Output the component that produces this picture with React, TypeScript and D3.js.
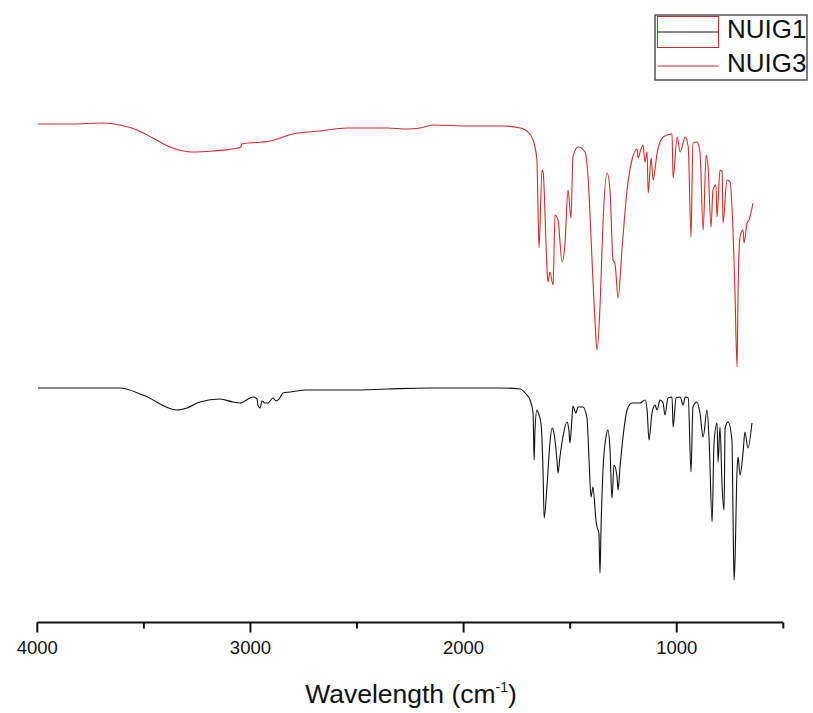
import React from "react";
import * as d3 from "d3";

// IR spectra: [wavenumber (cm-1), transmittance (offset, a.u.)]
const nuig3: [number, number][] = [
  [3997, 99.2], [3846, 99.2], [3692, 99.4], [3612, 99], [3532, 98], [3457, 96.4], [3377, 94.6],
  [3270, 93.6], [3176, 93.8], [3058, 94.4], [3045, 94.6], [3040, 95.2], [2908, 95.8], [2800, 97.2],
  [2674, 97.8], [2547, 98.4], [2359, 98.4], [2265, 98.2], [2204, 98.4], [2143, 99], [1970, 98.8],
  [1815, 98.8], [1735, 98.4], [1703, 97.8], [1674, 96], [1656, 92], [1651, 82.6], [1646, 74.4],
  [1632, 90], [1627, 89.6], [1609, 70.6], [1604, 67.6], [1595, 69.6], [1580, 67], [1571, 81],
  [1557, 80], [1538, 71.6], [1524, 75.4], [1510, 86], [1496, 80.4], [1487, 92.6], [1463, 94.6],
  [1430, 93.6], [1416, 88.6], [1398, 72.6], [1383, 59.4], [1374, 54], [1360, 62.6], [1346, 79.4],
  [1327, 89.4], [1313, 86], [1299, 72], [1290, 71.4], [1275, 64.4], [1257, 74], [1233, 86],
  [1210, 92], [1186, 94.2], [1181, 92.4], [1172, 93.6], [1158, 95], [1149, 91.6], [1139, 93.6],
  [1134, 85.4], [1120, 92.4], [1111, 88], [1092, 93.4], [1064, 96.6], [1022, 97.2], [1017, 88.4],
  [998, 96.6], [984, 93.6], [960, 96.6], [946, 94.6], [933, 76.6], [924, 95.4], [905, 95.6],
  [891, 93.6], [876, 78], [862, 93], [853, 90.6], [839, 78.6], [830, 86], [816, 87], [811, 80.6],
  [797, 90], [787, 89.6], [783, 79.4], [764, 88], [750, 87.6], [736, 78], [727, 66], [717, 50.6],
  [712, 66], [703, 76.6], [689, 78], [684, 75.4], [670, 79.4], [661, 80], [642, 83.4],
];

const nuig1: [number, number][] = [
  [3997, 46.4], [3612, 46.4], [3504, 45], [3345, 42], [3298, 42.4], [3237, 43.6], [3143, 44.2],
  [3082, 43.6], [3049, 43.4], [2988, 44.6], [2969, 44.2], [2965, 43], [2955, 42.4], [2946, 43.8],
  [2932, 43.4], [2918, 43.4], [2894, 44.4], [2880, 43.8], [2866, 44.2], [2847, 45.4], [2814, 45.6],
  [2735, 46], [2519, 46], [2359, 46.2], [2158, 46.4], [1829, 46.4], [1735, 46.2], [1707, 45.2],
  [1688, 44], [1674, 41.4], [1669, 32], [1665, 38], [1656, 42], [1651, 41.6], [1637, 39.4],
  [1627, 29.4], [1622, 20.4], [1609, 26.6], [1595, 35.4], [1585, 38.4], [1576, 37.4], [1562, 32],
  [1557, 29.4], [1548, 32.6], [1534, 36.6], [1515, 39.6], [1506, 38], [1501, 35.4], [1492, 40],
  [1487, 42.8], [1473, 41.4], [1463, 42.6], [1440, 42.6], [1421, 40.4], [1412, 32.6], [1402, 24.6],
  [1393, 26.6], [1379, 20], [1374, 18.6], [1365, 17.4], [1360, 9.4], [1355, 18.6], [1346, 30],
  [1332, 36.6], [1323, 38], [1313, 34], [1304, 24.4], [1294, 31], [1280, 28.6], [1275, 26],
  [1266, 30.6], [1252, 36.6], [1233, 42], [1210, 43.4], [1172, 43.4], [1149, 44], [1139, 42],
  [1130, 36], [1116, 41.4], [1102, 43], [1092, 42], [1078, 44], [1064, 43.4], [1055, 41],
  [1041, 44.4], [1022, 44.6], [1017, 38.6], [1003, 44.4], [984, 44.6], [970, 43], [960, 44.6],
  [946, 44.4], [933, 29.6], [924, 42.6], [905, 43.6], [891, 41.4], [876, 36.6], [858, 42],
  [848, 36], [834, 19.6], [825, 35.4], [811, 39.4], [806, 31.6], [797, 38.6], [787, 26.6],
  [778, 22], [773, 38.4], [759, 39.6], [741, 36], [736, 21.4], [731, 8], [727, 11.4], [717, 30],
  [712, 32.6], [703, 29], [689, 33.4], [680, 37.6], [666, 34.4], [647, 39.4],
];

const majorTicks = [4000, 3000, 2000, 1000];
const minorTicks = [3500, 2500, 1500, 500];
const seriesNames = ["NUIG1", "NUIG3"];
const xTitle = "Wavelength (cm";

const W = 813;
const H = 713;
const RED = "#d42a2a";
const FONT = "'Liberation Sans', Arial, sans-serif";

export default function App() {
  const x = d3.scaleLinear().domain([4000, 500]).range([37.3, 783.3]);
  const y = d3.scaleLinear().domain([0, 100]).range([620, 120]);
  const line = d3
    .line<[number, number]>()
    .x((d) => x(d[0]))
    .y((d) => y(d[1]))
    .curve(d3.curveMonotoneX);
  const axisY = 622.5;

  return (
    <svg
      width={W}
      height={H}
      style={{ position: "absolute", left: 0, top: 0, background: "#fff" }}
      fontFamily={FONT}
    >
      <rect x={0} y={0} width={W} height={H} fill="#fff" />
      <path d={line(nuig3) || ""} fill="none" stroke={RED} strokeWidth={1.1} />
      <path d={line(nuig1) || ""} fill="none" stroke="#111" strokeWidth={1.1} />

      {/* x axis */}
      <line x1={x(4000)} x2={x(500)} y1={axisY} y2={axisY} stroke="#111" strokeWidth={2} />
      {majorTicks.map((t) => (
        <g key={t}>
          <line x1={x(t)} x2={x(t)} y1={axisY} y2={axisY + 10} stroke="#111" strokeWidth={2} />
          <text x={x(t)} y={654} textAnchor="middle" fontSize={18.5} fill="#111">
            {t}
          </text>
        </g>
      ))}
      {minorTicks.map((t) => (
        <line key={t} x1={x(t)} x2={x(t)} y1={axisY} y2={axisY + 6} stroke="#111" strokeWidth={2} />
      ))}
      <text x={411} y={703} textAnchor="middle" fontSize={26.5} fill="#111">
        {xTitle}
        <tspan dy={-11} fontSize={14}>-1</tspan>
        <tspan dy={11}>)</tspan>
      </text>

      {/* legend */}
      <rect x={655} y={15} width={152} height={65} fill="#fff" stroke="#555" strokeWidth={1.5} />
      <rect x={657.5} y={16.5} width={61} height={31} fill="none" stroke={RED} strokeWidth={1} />
      <line x1={657.5} x2={718.5} y1={32} y2={32} stroke="#111" strokeWidth={1} />
      <line x1={657.5} x2={718.5} y1={66} y2={66} stroke={RED} strokeWidth={1} />
      <text x={727} y={38} fontSize={26} fill="#111">{seriesNames[0]}</text>
      <text x={727} y={72} fontSize={26} fill="#111">{seriesNames[1]}</text>
    </svg>
  );
}
